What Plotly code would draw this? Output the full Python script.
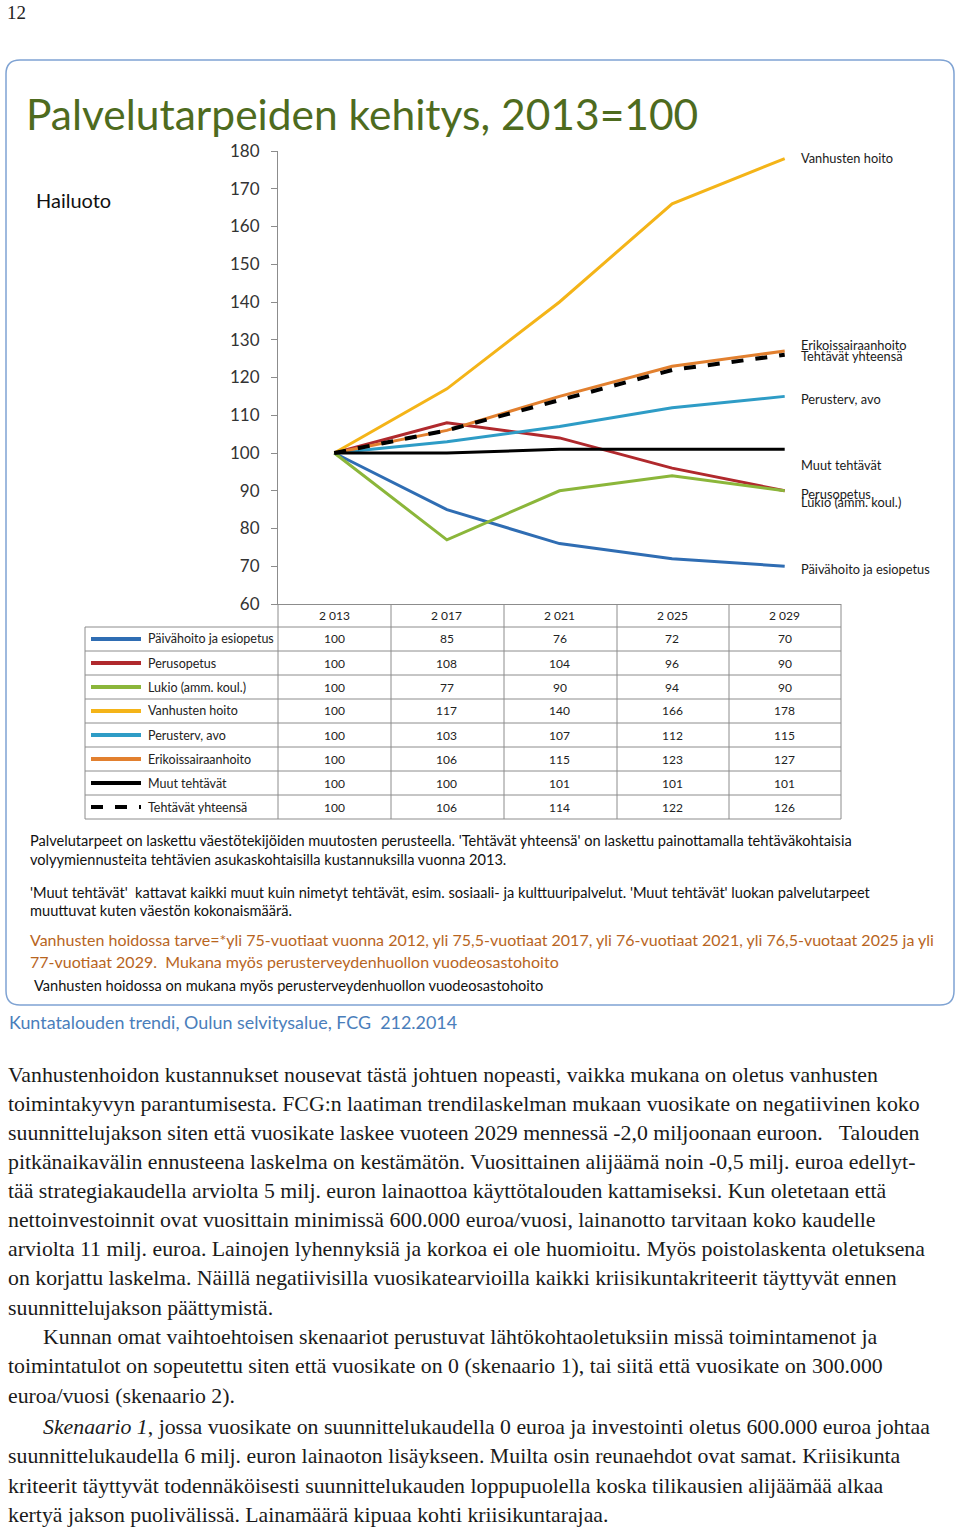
import plotly.graph_objects as go

W, H = 960, 1532

# ---------------- data ----------------
years = ["2 013", "2 017", "2 021", "2 025", "2 029"]
series_names = ["Päivähoito ja esiopetus", "Perusopetus", "Lukio (amm. koul.)", "Vanhusten hoito",
                "Perusterv, avo", "Erikoissairaanhoito", "Muut tehtävät", "Tehtävät yhteensä"]
paivahoito = [100, 85, 76, 72, 70]
perusopetus = [100, 108, 104, 96, 90]
lukio = [100, 77, 90, 94, 90]
vanhusten = [100, 117, 140, 166, 178]
perusterv = [100, 103, 107, 112, 115]
erikois = [100, 106, 115, 123, 127]
muut = [100, 100, 101, 101, 101]
yhteensa = [100, 106, 114, 122, 126]
series_values = [paivahoito, perusopetus, lukio, vanhusten, perusterv, erikois, muut, yhteensa]
y_ticks = [60, 70, 80, 90, 100, 110, 120, 130, 140, 150, 160, 170, 180]

# ---------------- style ----------------
colors = ["#2F6DB3", "#B0292D", "#8BB63A", "#F4B418", "#2E9CC6", "#E2802F", "#000000", "#000000"]
dashes = ["solid"] * 7 + ["dash"]
widths = [3, 3, 3, 3, 3, 3, 3, 4]
end_label_shift = [-3, -3, -11, 1, -3, 6, -16, -1]  # px offsets of right-hand labels

def px(x):
    return x / W

def py(y):
    return 1 - y / H

SANS = "Lato"
SERIF = "Liberation Serif"

fig = go.Figure()
for name, vals, c, d, w in zip(series_names, series_values, colors, dashes, widths):
    fig.add_trace(go.Scatter(x=years, y=vals, mode="lines", name=name,
                             line=dict(color=c, width=w, dash=d), showlegend=False))

shapes = []
ann = []

# chart box with rounded corners
x0, x1, y0, y1, r = px(6), px(954), py(60), py(1005), 14
rx, ry = r / W, r / H
path = (f"M {x0+rx},{y0} L {x1-rx},{y0} Q {x1},{y0} {x1},{y0-ry} L {x1},{y1+ry} "
        f"Q {x1},{y1} {x1-rx},{y1} L {x0+rx},{y1} Q {x0},{y1} {x0},{y1+ry} L {x0},{y0-ry} "
        f"Q {x0},{y0} {x0+rx},{y0} Z")
shapes.append(dict(type="path", xref="paper", yref="paper", path=path,
                   line=dict(color="#7FA3D3", width=1.5), layer="below"))

# table geometry
col_edges = [278, 391, 504, 617, 729, 841]
row_top = 627
row_h = 24
n_rows = len(series_names)
grid = "#8C8C8C"
for xe in col_edges:
    shapes.append(dict(type="line", xref="paper", yref="paper", x0=px(xe), x1=px(xe),
                       y0=py(604), y1=py(row_top + n_rows * row_h), line=dict(color=grid, width=1)))
shapes.append(dict(type="line", xref="paper", yref="paper", x0=px(85), x1=px(85),
                   y0=py(row_top), y1=py(row_top + n_rows * row_h), line=dict(color=grid, width=1)))
for i in range(n_rows + 1):
    yy = row_top + i * row_h
    shapes.append(dict(type="line", xref="paper", yref="paper", x0=px(85), x1=px(841),
                       y0=py(yy), y1=py(yy), line=dict(color=grid, width=1)))

for yr in years:
    ann.append(dict(x=yr, xref="x", y=py(615), yref="paper", text=yr, showarrow=False,
                    font=dict(family=SANS, size=12, color="#222"), xanchor="center", yanchor="middle"))

for i, (name, vals, c, d) in enumerate(zip(series_names, series_values, colors, dashes)):
    yc = row_top + i * row_h + row_h / 2
    shapes.append(dict(type="line", xref="paper", yref="paper", x0=px(91), x1=px(141),
                       y0=py(yc), y1=py(yc), line=dict(color=c, width=4, dash="dash" if d == "dash" else "solid")))
    ann.append(dict(x=px(146), xref="paper", y=py(yc), yref="paper", text=name, showarrow=False,
                    font=dict(family=SANS, size=12.5, color="#222"), xanchor="left", yanchor="middle"))
    for yr, v in zip(years, vals):
        ann.append(dict(x=yr, xref="x", y=py(yc), yref="paper", text=str(v), showarrow=False,
                        font=dict(family=SANS, size=12, color="#222"), xanchor="center", yanchor="middle"))
    ann.append(dict(x=years[-1], xref="x", y=vals[-1], yref="y", text=name, showarrow=False,
                    xanchor="left", yanchor="middle", xshift=14, yshift=end_label_shift[i],
                    font=dict(family=SANS, size=12.8, color="#1a1a1a")))

ann.append(dict(x=px(24), y=py(114), xref="paper", yref="paper", text="Palvelutarpeiden kehitys, 2013=100",
                showarrow=False, xanchor="left", yanchor="middle",
                font=dict(family=SANS, size=42.5, color="#4E6B1E")))
ann.append(dict(x=px(34), y=py(200), xref="paper", yref="paper", text="Hailuoto",
                showarrow=False, xanchor="left", yanchor="middle",
                font=dict(family=SANS, size=20, color="#111")))
ann.append(dict(x=px(5), y=py(12), xref="paper", yref="paper", text="12",
                showarrow=False, xanchor="left", yanchor="middle",
                font=dict(family=SERIF, size=19, color="#222")))

notes = [
    (28, 840, "Palvelutarpeet on laskettu väestötekijöiden muutosten perusteella. 'Tehtävät yhteensä' on laskettu painottamalla tehtäväkohtaisia", "#111", 14.6),
    (28, 859, "volyymiennusteita tehtävien asukaskohtaisilla kustannuksilla vuonna 2013.", "#111", 14.6),
    (28, 892, "'Muut tehtävät'  kattavat kaikki muut kuin nimetyt tehtävät, esim. sosiaali- ja kulttuuripalvelut. 'Muut tehtävät' luokan palvelutarpeet", "#111", 14.6),
    (28, 911, "muuttuvat kuten väestön kokonaismäärä.", "#111", 14.6),
    (28, 939, "Vanhusten hoidossa tarve=*yli 75-vuotiaat vuonna 2012, yli 75,5-vuotiaat 2017, yli 76-vuotiaat 2021, yli 76,5-vuotaat 2025 ja yli", "#B8651E", 16),
    (28, 961, "77-vuotiaat 2029.  Mukana myös perusterveydenhuollon vuodeosastohoito", "#B8651E", 16),
    (32, 985, "Vanhusten hoidossa on mukana myös perusterveydenhuollon vuodeosastohoito", "#111", 14.6),
]
for x, y, t, c, s in notes:
    ann.append(dict(x=px(x), y=py(y), xref="paper", yref="paper", text=t.replace("  ", "&nbsp; "),
                    showarrow=False, xanchor="left", yanchor="middle", font=dict(family=SANS, size=s, color=c)))

ann.append(dict(x=px(7), y=py(1022), xref="paper", yref="paper",
                text="Kuntatalouden trendi, Oulun selvitysalue, FCG&nbsp; 212.2014",
                showarrow=False, xanchor="left", yanchor="middle",
                font=dict(family=SANS, size=17.9, color="#4A7EBB")))

body = [
    (6, 1075, "Vanhustenhoidon kustannukset nousevat tästä johtuen nopeasti, vaikka mukana on oletus vanhusten"),
    (6, 1104, "toimintakyvyn parantumisesta. FCG:n laatiman trendilaskelman mukaan vuosikate on negatiivinen koko"),
    (6, 1133, "suunnittelujakson siten että vuosikate laskee vuoteen 2029 mennessä -2,0 miljoonaan euroon.&nbsp;&nbsp; Talouden"),
    (6, 1162, "pitkänaikavälin ennusteena laskelma on kestämätön. Vuosittainen alijäämä noin -0,5 milj. euroa edellyt-"),
    (6, 1191, "tää strategiakaudella arviolta 5 milj. euron lainaottoa käyttötalouden kattamiseksi. Kun oletetaan että"),
    (6, 1220, "nettoinvestoinnit ovat vuosittain minimissä 600.000 euroa/vuosi, lainanotto tarvitaan koko kaudelle"),
    (6, 1249, "arviolta 11 milj. euroa. Lainojen lyhennyksiä ja korkoa ei ole huomioitu. Myös poistolaskenta oletuksena"),
    (6, 1278, "on korjattu laskelma. Näillä negatiivisilla vuosikatearvioilla kaikki kriisikuntakriteerit täyttyvät ennen"),
    (6, 1308, "suunnittelujakson päättymistä."),
    (41, 1337, "Kunnan omat vaihtoehtoisen skenaariot perustuvat lähtökohtaoletuksiin missä toimintamenot ja"),
    (6, 1366, "toimintatulot on sopeutettu siten että vuosikate on 0 (skenaario 1), tai siitä että vuosikate on 300.000"),
    (6, 1396, "euroa/vuosi (skenaario 2)."),
    (41, 1427, "<i>Skenaario 1</i>, jossa vuosikate on suunnittelukaudella 0 euroa ja investointi oletus 600.000 euroa johtaa"),
    (6, 1456, "suunnittelukaudella 6 milj. euron lainaoton lisäykseen. Muilta osin reunaehdot ovat samat. Kriisikunta"),
    (6, 1486, "kriteerit täyttyvät todennäköisesti suunnittelukauden loppupuolella koska tilikausien alijäämää alkaa"),
    (6, 1515, "kertyä jakson puolivälissä. Lainamäärä kipuaa kohti kriisikuntarajaa."),
]
for x, y, t in body:
    ann.append(dict(x=px(x), y=py(y), xref="paper", yref="paper", text=t, showarrow=False,
                    xanchor="left", yanchor="middle", font=dict(family=SERIF, size=21.8, color="#1a1a1a")))

fig.update_layout(
    template="none",
    width=W, height=H, autosize=False,
    margin=dict(l=0, r=0, t=0, b=0, pad=0, autoexpand=False),
    paper_bgcolor="white", plot_bgcolor="white",
    shapes=shapes, annotations=ann,
    xaxis=dict(type="category", categoryorder="array", categoryarray=years,
               domain=[px(278), px(841)], range=[-0.5, 4.5], automargin=False,
               showticklabels=False, ticks="", showgrid=False, zeroline=False,
               showline=True, linecolor="#8C8C8C", linewidth=1, fixedrange=True),
    yaxis=dict(domain=[py(604), py(151)], range=[60, 180], tickvals=y_ticks, automargin=False,
               ticks="outside", ticklen=6, tickcolor="#8C8C8C", showline=True,
               linecolor="#8C8C8C", linewidth=1, showgrid=False, zeroline=False,
               tickfont=dict(family=SANS, size=17, color="#333"), ticklabelstandoff=8,
               fixedrange=True),
)

fig.write_html("out.html")
